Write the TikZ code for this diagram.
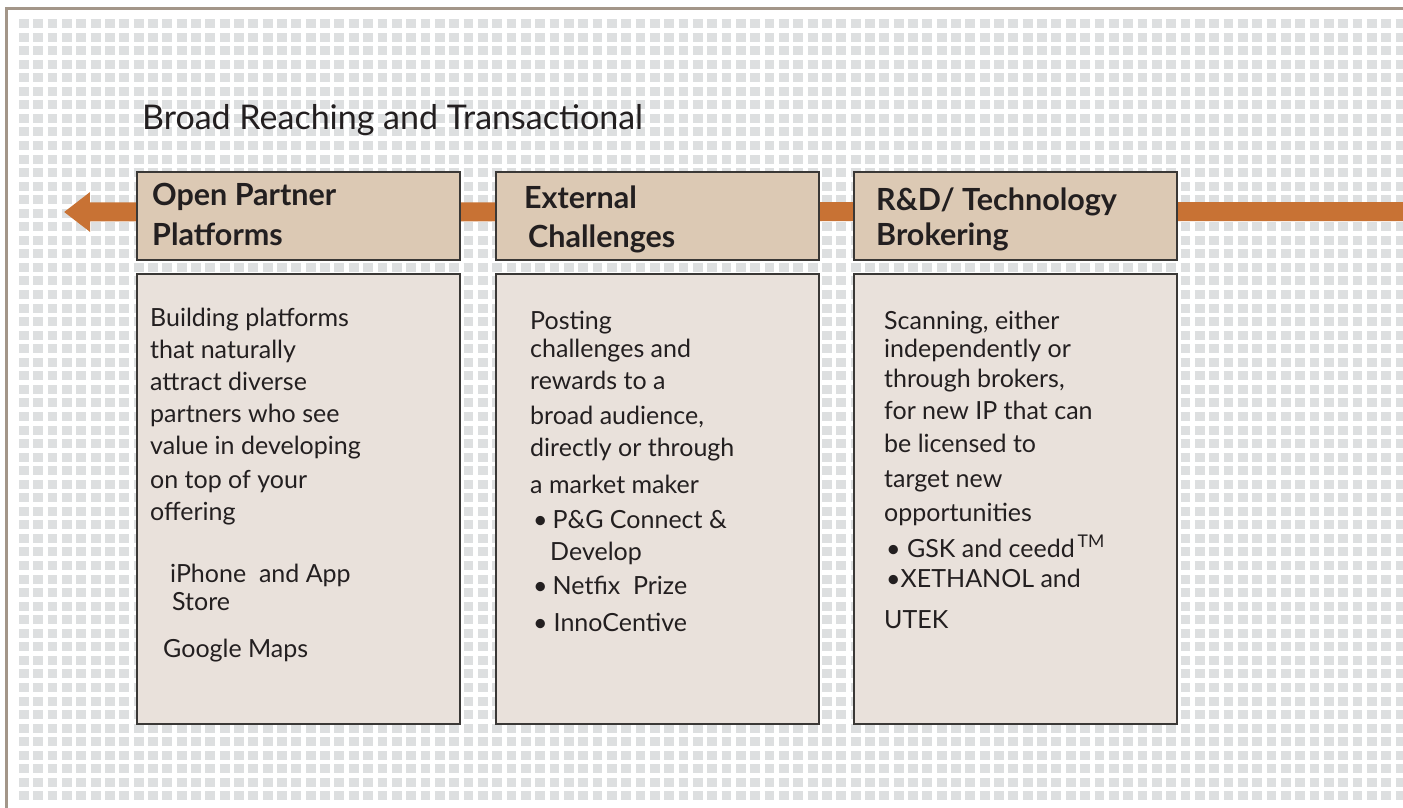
\documentclass[tikz,border=0pt]{standalone}
\usepackage{fontspec}
\setmainfont{Lato}
\usetikzlibrary{arrows.meta, positioning}

\definecolor{framegray}{HTML}{A39689}
\definecolor{dotgray}{HTML}{DDDFE0}
\definecolor{headtan}{HTML}{DCC9B4}
\definecolor{bodytan}{HTML}{E9E1DB}
\definecolor{rust}{HTML}{C87234}
\definecolor{boxline}{HTML}{3A3836}
\definecolor{ink}{HTML}{231F20}

% text blocks are set as top-aligned tabulars so that "base" is the first line
\newcommand{\lines}[1]{\begin{tabular}[t]{@{}l@{}}#1\end{tabular}}

\tikzset{
  headbox/.style={draw=boxline, line width=1.8pt, fill=headtan, minimum width=323pt, minimum height=88pt, inner sep=0pt, anchor=north west},
  bodybox/.style={draw=boxline, line width=1.8pt, fill=bodytan, minimum width=323pt, minimum height=450pt, inner sep=0pt, anchor=north west},
  headtext/.style={text=ink, font=\fontsize{30.5}{40}\selectfont\bfseries, anchor=base west, inner sep=0pt},
  bodytext/.style={text=ink, font=\fontsize{25}{32}\selectfont, anchor=base west, inner sep=0pt},
}

\begin{document}
\begin{tikzpicture}[x=1pt, y=-1pt]
        \useasboundingbox[fill=white] (0,0) rectangle (1403,808);

        % dotted backdrop, one dashed row per line of squares
        \foreach \r in {0,...,57}
          \draw[dotgray, line width=9pt, dash pattern=on 9.8pt off 4.54pt] (19,23.5+\r*13.55) -- (1403,23.5+\r*13.55);

        \draw[framegray, line width=3pt] (6.5,808) -- (6.5,8.5) -- (1403,8.5);

        \node[text=ink, font=\fontsize{34}{40}\selectfont, anchor=base west, inner sep=0pt] (title) at (142,129) {Broad Reaching and Transactional};

        % the long arrow runs behind the headers
        \coordinate (tail) at (1403,211.5);
        \coordinate (tip) at (64,212);
        \draw[rust, line width=19pt, -{Triangle[length=26pt, width=38pt]}] (tail) -- (tip);

        \node[headbox] (H1) at (136,171) {};
        \node[headbox] (H2) at (495,171) {};
        \node[headbox] (H3) at (853,171) {};
        \node[bodybox] (B1) at (136,273) {};
        \node[bodybox] (B2) at (495,273) {};
        \node[bodybox] (B3) at (853,273) {};

        \node[headtext] (t1) at (152,205) {\lines{Open Partner\\Platforms}};
        \node[headtext] (t2) at (524,208) {\lines{External\\[-1pt]\hspace*{4pt}Challenges}};
        \node[headtext] (t3) at (876,210) {\lines{R\&D/ Technology\\[-5pt]Brokering}};

        \node[bodytext] (b1) at (150,326) {\lines{Building platforms\\that naturally\\attract diverse\\partners who see\\value in developing\\[2pt]on top of your\\offering\\[30pt]
          \hspace*{20pt}iPhone\ \ and App\\[-4pt]\hspace*{22pt}Store\\[15pt]\hspace*{13pt}Google Maps}};
        \node[bodytext] (b2) at (530,329) {\lines{Posting\\[-4pt]challenges and\\rewards to a\\[3pt]broad audience,\\directly or through\\[5pt]a market maker\\[3pt]
          \hspace*{3pt}\textbullet\hspace{5pt}P\&G Connect \&\\\hspace*{20pt}Develop\\[2pt]\hspace*{3pt}\textbullet\hspace{5pt}Netfix\ \ Prize\\[5pt]\hspace*{3pt}\textbullet\hspace{6pt}InnoCentive}};
        \node[bodytext] (b3) at (884,329) {\lines{Scanning, either\\[-4pt]independently or\\[-2pt]through brokers,\\for new IP that can\\[1pt]be licensed to\\[3pt]target new\\[2pt]opportunities\\[4pt]
          \hspace*{2pt}\textbullet\ GSK and ceedd\textsuperscript{\,TM}\\[-2pt]\hspace*{2pt}\textbullet XETHANOL and\\[9pt]UTEK}};
\end{tikzpicture}
\end{document}
